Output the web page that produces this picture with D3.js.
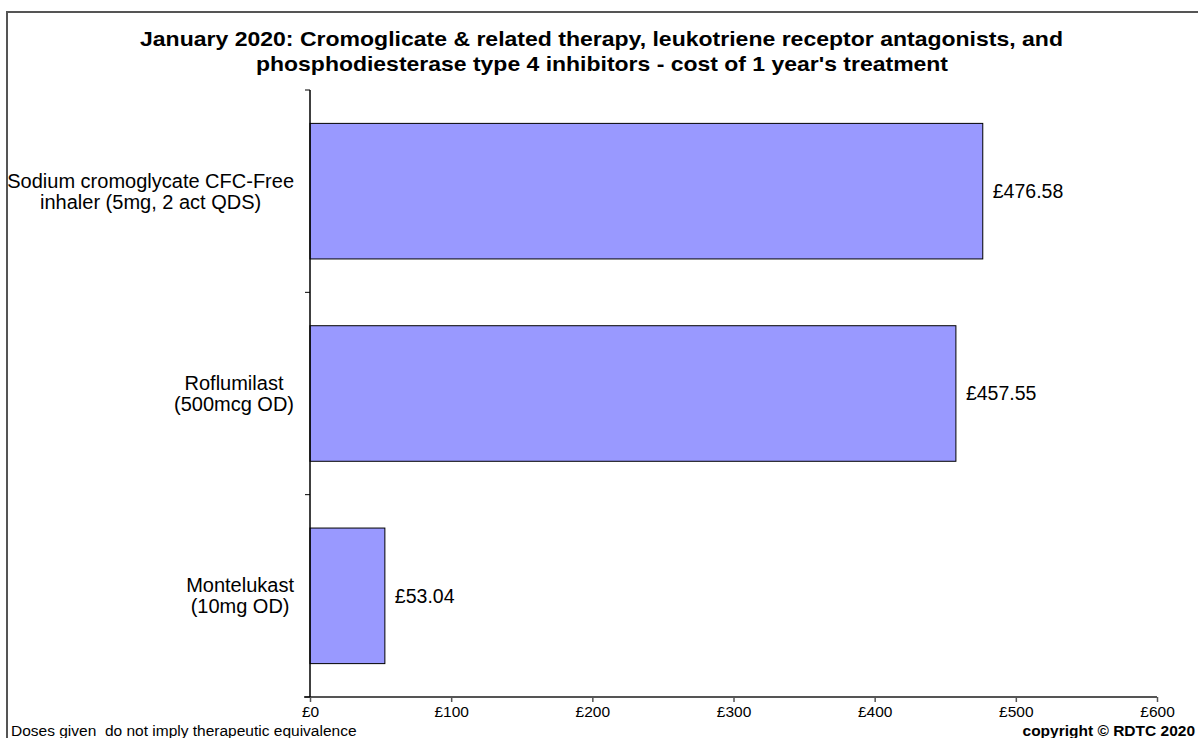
<!DOCTYPE html>
<html>
<head>
<meta charset="utf-8">
<script src="https://cdn.jsdelivr.net/npm/d3@7"></script>
<style>
  html, body { margin: 0; padding: 0; background: #fff; overflow: hidden; }
  svg { display: block; font-family: Arial, "Liberation Sans", sans-serif; }
</style>
</head>
<body>
<svg id="chart" width="1198" height="738"></svg>
<script>
// Annual treatment cost per product (GBP)
const titleLines = [
  "January 2020: Cromoglicate & related therapy, leukotriene receptor antagonists, and",
  "phosphodiesterase type 4 inhibitors - cost of 1 year's treatment"
];
const categories = [
  ["Sodium cromoglycate CFC-Free", "inhaler (5mg, 2 act QDS)"],
  ["Roflumilast", "(500mcg OD)"],
  ["Montelukast", "(10mg OD)"]
];
const costs = [476.58, 457.55, 53.04];
const costLabels = ["£476.58", "£457.55", "£53.04"];
const xTicks = [0, 100, 200, 300, 400, 500, 600];
const xTickLabels = ["£0", "£100", "£200", "£300", "£400", "£500", "£600"];

const svg = d3.select("#chart");

// outer frame
svg.append("rect")
  .attr("x", 7).attr("y", 12)
  .attr("width", 1200).attr("height", 740)
  .attr("fill", "none").attr("stroke", "#555").attr("stroke-width", 2);

const plot = { left: 310, right: 1157, top: 90, bottom: 697 };

const x = d3.scaleLinear().domain([0, 600]).range([plot.left, plot.right]);
const keys = categories.map((c, i) => i);
const y = d3.scaleBand().domain(keys).range([plot.top, plot.bottom])
  .paddingInner(0.33).paddingOuter(0.165);

// bars
svg.append("g").selectAll("rect")
  .data(costs)
  .join("rect")
  .attr("x", x(0))
  .attr("y", (d, i) => y(i))
  .attr("width", d => x(d) - x(0))
  .attr("height", y.bandwidth())
  .attr("fill", "#9999ff")
  .attr("stroke", "#000")
  .attr("stroke-width", 1);

// value labels
svg.append("g").selectAll("text")
  .data(costs)
  .join("text")
  .attr("x", d => x(d) + 10)
  .attr("y", (d, i) => y(i) + y.bandwidth() / 2)
  .attr("dy", "0.35em")
  .attr("font-size", 19.5)
  .attr("fill", "#000")
  .text((d, i) => costLabels[i]);

// x axis
const xAxis = d3.axisBottom(x)
  .tickValues(xTicks)
  .tickFormat((d, i) => xTickLabels[i])
  .tickSize(5)
  .tickSizeOuter(0);
const gx = svg.append("g")
  .attr("transform", `translate(0,${plot.bottom})`)
  .call(xAxis);
gx.select(".domain").remove();
gx.append("line")
  .attr("x1", plot.left - 6).attr("x2", plot.right)
  .attr("stroke", "#555").attr("stroke-width", 2);
gx.selectAll(".tick line").attr("stroke", "#555").attr("stroke-width", 1.5);
gx.selectAll(".tick text")
  .attr("font-size", 15.5)
  .attr("font-family", "Arial, 'Liberation Sans', sans-serif")
  .attr("fill", "#000")
  .attr("y", 9);

// y axis with category boundary ticks
const yEdges = keys.map(k => y(k) - (y.step() - y.bandwidth()) / 2);
yEdges.push(plot.bottom);
const gy = svg.append("g");
gy.append("line")
  .attr("x1", plot.left).attr("x2", plot.left)
  .attr("y1", plot.top).attr("y2", plot.bottom)
  .attr("stroke", "#000").attr("stroke-width", 1.5);
gy.selectAll("line.tk")
  .data(yEdges)
  .join("line")
  .attr("class", "tk")
  .attr("x1", plot.left - 5).attr("x2", plot.left)
  .attr("y1", d => d).attr("y2", d => d)
  .attr("stroke", "#000").attr("stroke-width", 1);

// category labels: each two-line block centred, widest line ending near the axis
const labelRight = 294;
const lineGap = 21;
categories.forEach((lines, i) => {
  const cy = y(i) + y.bandwidth() / 2;
  const g = svg.append("g");
  const texts = lines.map((ln, j) => g.append("text")
    .attr("font-size", 20)
    .attr("fill", "#000")
    .attr("text-anchor", "middle")
    .attr("y", cy + (j - (lines.length - 1) / 2) * lineGap)
    .attr("dy", "0.35em")
    .text(ln));
  const w = d3.max(texts, t => t.node().getComputedTextLength());
  texts.forEach(t => t.attr("x", labelRight - w / 2));
});

// title
const titleWidths = [923, 692];
const titleStarts = [140, 256];
titleLines.forEach((ln, i) => {
  svg.append("text")
    .attr("x", titleStarts[i])
    .attr("y", 46 + i * 25)
    .attr("font-size", 21)
    .attr("font-weight", "bold")
    .attr("textLength", titleWidths[i])
    .attr("lengthAdjust", "spacingAndGlyphs")
    .attr("fill", "#000")
    .text(ln);
});

// footnotes
svg.append("text")
  .attr("x", 11).attr("y", 736)
  .attr("font-size", 15.5)
  .attr("fill", "#000")
  .attr("xml:space", "preserve")
  .style("white-space", "pre")
  .text("Doses given  do not imply therapeutic equivalence");
svg.append("text")
  .attr("x", 1195).attr("y", 736)
  .attr("text-anchor", "end")
  .attr("font-size", 15.5)
  .attr("font-weight", "bold")
  .attr("fill", "#000")
  .text("copyright © RDTC  2020");
</script>
</body>
</html>
